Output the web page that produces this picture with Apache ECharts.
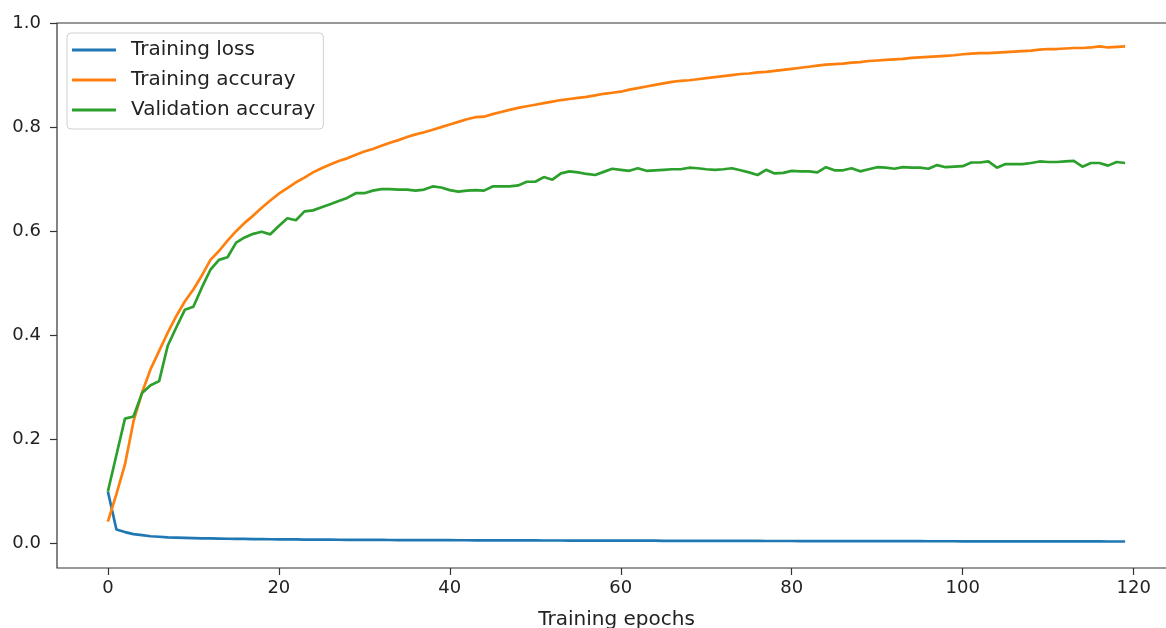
<!DOCTYPE html>
<html>
<head>
<meta charset="utf-8">
<script src="https://cdn.jsdelivr.net/npm/echarts@6/dist/echarts.min.js"></script>
<style>
    html, body { margin: 0; padding: 0; background: #fff; }
    #main { width: 1166px; height: 628px; }
</style>
</head>
<body>
<div id="main"></div>
<script>
var seriesNames = ['Training loss', 'Training accuray', 'Validation accuray'];
var xTicks = [0, 20, 40, 60, 80, 100, 120];
var yTicks = [0, 0.2, 0.4, 0.6, 0.8, 1.0];

// one value per epoch, 0..119
var trainLoss = [
    0.100, 0.027, 0.022, 0.018, 0.016, 0.014, 0.013, 0.012, 0.0115, 0.011,
    0.0105, 0.010, 0.0098, 0.0095, 0.0092, 0.009, 0.0088, 0.0086, 0.0084, 0.0082,
    0.008, 0.0079, 0.0078, 0.0077, 0.0076, 0.0075, 0.0074, 0.0073, 0.0072, 0.0071,
    0.007, 0.0069, 0.0069, 0.0068, 0.0067, 0.0067, 0.0066, 0.0065, 0.0065, 0.0064,
    0.0064, 0.0063, 0.0063, 0.0062, 0.0062, 0.0061, 0.0061, 0.006, 0.006, 0.0059,
    0.0059, 0.0058, 0.0058, 0.0058, 0.0057, 0.0057, 0.0056, 0.0056, 0.0056, 0.0055,
    0.0055, 0.0055, 0.0054, 0.0054, 0.0054, 0.0053, 0.0053, 0.0053, 0.0052, 0.0052,
    0.0052, 0.0051, 0.0051, 0.0051, 0.005, 0.005, 0.005, 0.0049, 0.0049, 0.0049,
    0.0049, 0.0048, 0.0048, 0.0048, 0.0047, 0.0047, 0.0047, 0.0047, 0.0046, 0.0046,
    0.0046, 0.0046, 0.0045, 0.0045, 0.0045, 0.0045, 0.0044, 0.0044, 0.0044, 0.0044,
    0.0043, 0.0043, 0.0043, 0.0043, 0.0042, 0.0042, 0.0042, 0.0042, 0.0041, 0.0041,
    0.0041, 0.0041, 0.004, 0.004, 0.004, 0.004, 0.004, 0.0039, 0.0039, 0.0039
];

var trainAcc = [
    0.042, 0.095, 0.152, 0.235, 0.290, 0.335, 0.370, 0.405, 0.437, 0.465,
    0.488, 0.515, 0.545, 0.562, 0.582, 0.600, 0.616, 0.630, 0.645, 0.659,
    0.672, 0.683, 0.694, 0.703, 0.713, 0.721, 0.728, 0.735, 0.740, 0.747,
    0.753, 0.758, 0.764, 0.770, 0.775, 0.781, 0.786, 0.790, 0.795, 0.800,
    0.805, 0.810, 0.815, 0.819, 0.820, 0.825, 0.829, 0.833, 0.837, 0.840,
    0.843, 0.846, 0.849, 0.852, 0.854, 0.856, 0.858, 0.861, 0.864, 0.866,
    0.868, 0.872, 0.875, 0.878, 0.881, 0.884, 0.887, 0.889, 0.890, 0.892,
    0.894, 0.896, 0.898, 0.900, 0.902, 0.903, 0.905, 0.906, 0.908, 0.910,
    0.912, 0.914, 0.916, 0.918, 0.920, 0.921, 0.922, 0.924, 0.925, 0.927,
    0.928, 0.929, 0.930, 0.931, 0.933, 0.934, 0.935, 0.936, 0.937, 0.938,
    0.940, 0.941, 0.942, 0.942, 0.943, 0.944, 0.945, 0.946, 0.947, 0.949,
    0.950, 0.950, 0.951, 0.952, 0.952, 0.953, 0.955, 0.953, 0.954, 0.955
];

var valAcc = [
    0.100, 0.170, 0.240, 0.244, 0.289, 0.304, 0.312, 0.380, 0.415, 0.449,
    0.455, 0.492, 0.526, 0.545, 0.550, 0.578, 0.588, 0.595, 0.599, 0.594,
    0.610, 0.625, 0.621, 0.638, 0.640, 0.646, 0.652, 0.658, 0.664, 0.673,
    0.673, 0.678, 0.681, 0.681, 0.680, 0.680, 0.678, 0.680, 0.686, 0.684,
    0.679, 0.676, 0.678, 0.679, 0.678, 0.686, 0.686, 0.686, 0.688, 0.695,
    0.695, 0.704, 0.699, 0.711, 0.715, 0.713, 0.710, 0.708, 0.714, 0.720,
    0.718, 0.716, 0.721, 0.716, 0.717, 0.718, 0.719, 0.719, 0.722, 0.721,
    0.719, 0.718, 0.719, 0.721, 0.717, 0.713, 0.708, 0.718, 0.711, 0.712,
    0.716, 0.715, 0.715, 0.713, 0.723, 0.717, 0.717, 0.721, 0.715, 0.719,
    0.723, 0.722, 0.720, 0.723, 0.722, 0.722, 0.720, 0.727, 0.723, 0.724,
    0.725, 0.732, 0.732, 0.734, 0.722, 0.729, 0.729, 0.729, 0.731, 0.734,
    0.733, 0.733, 0.734, 0.735, 0.724, 0.731, 0.731, 0.726, 0.733, 0.731
];

var colors = ['#1f77b4', '#ff7f0e', '#2ca02c'];

function pairs(arr) {
    var out = [];
    for (var i = 0; i < arr.length; i++) {
        out.push([i, arr[i]]);
    }
    return out;
}

function makeLine(name, arr, color) {
    return {
        name: name,
        type: 'line',
        data: pairs(arr),
        showSymbol: false,
        symbol: 'none',
        color: color,
        lineStyle: { width: 2.7, color: color },
        z: 3
    };
}

var font = 'DejaVu Sans';
var txt = '#222';

var myChart = echarts.init(document.getElementById('main'));

var option = {
    animation: false,
    backgroundColor: '#fff',
    grid: {
        left: 57,
        top: 23,
        width: 1119, // right spine falls outside the picture, like the reference
        height: 545,
        outerBoundsMode: 'none',
        containLabel: false,
        show: true,
        borderColor: '#333',
        borderWidth: 1.2,
        backgroundColor: 'transparent'
    },
    legend: {
        orient: 'vertical',
        left: 67,
        top: 33,
        padding: [7, 8, 9, 5],
        itemGap: 10,
        itemWidth: 44,
        itemHeight: 3,
        icon: 'rect',
        backgroundColor: 'rgba(255,255,255,0.8)',
        borderColor: '#d0d0d0',
        borderWidth: 1,
        borderRadius: 4,
        textStyle: {
            fontFamily: font,
            fontSize: 20,
            color: txt,
            lineHeight: 20,
            padding: [0, 0, 0, 10]
        },
        data: seriesNames
    },
    xAxis: {
        type: 'value',
        min: -5.95,
        max: 124.95,
        name: 'Training epochs',
        nameLocation: 'middle',
        nameGap: 42,
        nameTextStyle: { fontFamily: font, fontSize: 20, color: txt },
        axisLine: { show: false, onZero: false },
        axisTick: {
            show: true,
            length: 7,
            customValues: xTicks,
            lineStyle: { color: '#333', width: 1.2 }
        },
        axisLabel: {
            customValues: xTicks,
            fontFamily: font,
            fontSize: 18,
            color: txt,
            margin: 11,
            formatter: function(v) { return String(Math.round(v)); }
        },
        splitLine: { show: false }
    },
    yAxis: {
        type: 'value',
        min: -0.047,
        max: 1.0,
        axisLine: { show: false, onZero: false },
        axisTick: {
            show: true,
            length: 7,
            customValues: yTicks,
            lineStyle: { color: '#333', width: 1.2 }
        },
        axisLabel: {
            customValues: yTicks,
            fontFamily: font,
            fontSize: 18,
            color: txt,
            margin: 16,
            formatter: function(v) { return v.toFixed(1); }
        },
        splitLine: { show: false }
    },
    series: [
        makeLine(seriesNames[0], trainLoss, colors[0]),
        makeLine(seriesNames[1], trainAcc, colors[1]),
        makeLine(seriesNames[2], valAcc, colors[2])
    ]
};

myChart.setOption(option);
</script>
</body>
</html>
